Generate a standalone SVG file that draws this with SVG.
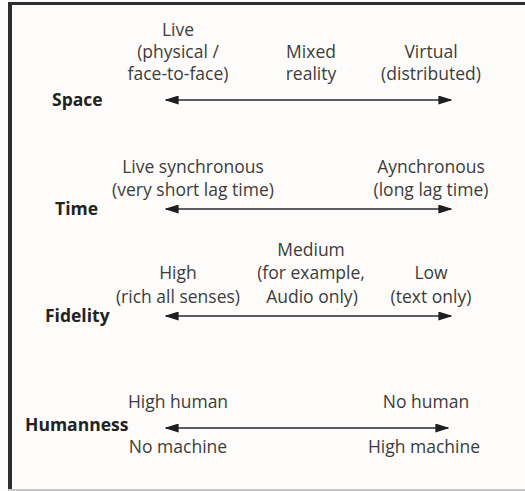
<svg xmlns="http://www.w3.org/2000/svg" width="525" height="491" viewBox="0 0 525 491">
<defs>
<style>
.t{font-family:"Open Sans","Noto Sans",sans-serif;font-size:17.5px;fill:#3c3c3c;text-anchor:middle}
.b{font-family:"Open Sans","Noto Sans",sans-serif;font-size:17.5px;font-weight:bold;fill:#222}
.ax{stroke:#2a2a2a;stroke-width:1.6;fill:none;marker-start:url(#ah);marker-end:url(#ah)}
</style>
<marker id="ah" viewBox="0 0 10 10" refX="9" refY="5" markerWidth="14" markerHeight="9" markerUnits="userSpaceOnUse" orient="auto-start-reverse" preserveAspectRatio="none">
<path d="M0,0 L10,5 L0,10 Z" fill="#1e1e1e"/>
</marker>
</defs>
<rect x="0" y="0" width="525" height="491" fill="#fdfcfa"/>
<rect x="8" y="2" width="4" height="489" fill="#2e2e2e"/>
<rect x="8" y="2" width="517" height="3" fill="#2e2e2e"/>
<rect x="8" y="489" width="517" height="2" fill="#c8c8c8"/>
<g id="connectors">
<line class="ax" x1="166" y1="100" x2="451" y2="100"/>
<line class="ax" x1="166" y1="209" x2="451" y2="209"/>
<line class="ax" x1="166" y1="316" x2="451" y2="316"/>
<line class="ax" x1="166" y1="428" x2="448" y2="428"/>
</g>
<g id="space">
<text class="b" x="52" y="106">Space</text>
<text class="t" x="178" y="36">Live</text>
<text class="t" x="178" y="58">(physical /</text>
<text class="t" x="178" y="80">face-to-face)</text>
<text class="t" x="311" y="58">Mixed</text>
<text class="t" x="311" y="80">reality</text>
<text class="t" x="431" y="58">Virtual</text>
<text class="t" x="431" y="80">(distributed)</text>
</g>
<g id="time">
<text class="b" x="55" y="215">Time</text>
<text class="t" x="193" y="173">Live synchronous</text>
<text class="t" x="193" y="196">(very short lag time)</text>
<text class="t" x="431" y="173">Aynchronous</text>
<text class="t" x="431" y="196">(long lag time)</text>
</g>
<g id="fidelity">
<text class="b" x="45" y="322">Fidelity</text>
<text class="t" x="178" y="279">High</text>
<text class="t" x="178" y="303">(rich all senses)</text>
<text class="t" x="311" y="256">Medium</text>
<text class="t" x="311" y="279">(for example,</text>
<text class="t" x="312" y="303">Audio only)</text>
<text class="t" x="431" y="279">Low</text>
<text class="t" x="431" y="303">(text only)</text>
</g>
<g id="humanness">
<text class="b" x="25" y="431">Humanness</text>
<text class="t" x="178" y="408">High human</text>
<text class="t" x="178" y="453">No machine</text>
<text class="t" x="426" y="408">No human</text>
<text class="t" x="424" y="453">High machine</text>
</g>
</svg>
